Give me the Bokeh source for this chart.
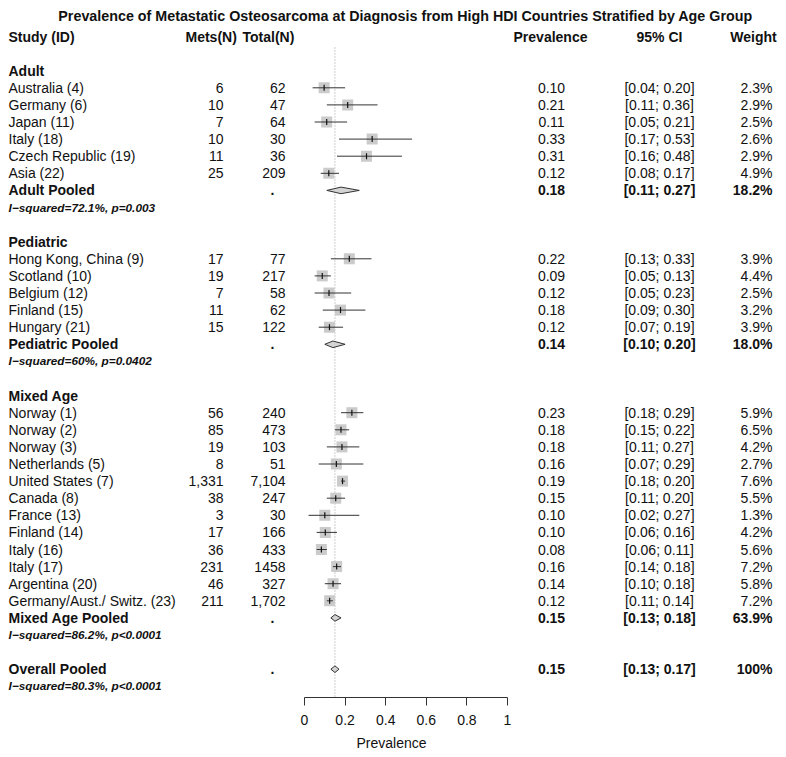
from bokeh.plotting import figure
from bokeh.models import Range1d, LinearAxis, FixedTicker, ColumnDataSource
from bokeh.core.properties import value
from bokeh.embed import file_html
from bokeh.resources import INLINE

# ---------------- data ----------------
title = "Prevalence of Metastatic Osteosarcoma at Diagnosis from High HDI Countries Stratified by Age Group"
col_headers = ["Study (ID)", "Mets(N)", "Total(N)", "Prevalence", "95% CI", "Weight"]

group_names = ["Adult", "Pediatric", "Mixed Age"]

adult_study = ["Australia (4)", "Germany (6)", "Japan (11)", "Italy (18)", "Czech Republic (19)", "Asia (22)"]
adult_mets = ["6", "10", "7", "10", "11", "25"]
adult_total = ["62", "47", "64", "30", "36", "209"]
adult_prev = [0.10, 0.21, 0.11, 0.33, 0.31, 0.12]
adult_lo = [0.04, 0.11, 0.05, 0.17, 0.16, 0.08]
adult_hi = [0.20, 0.36, 0.21, 0.53, 0.48, 0.17]
adult_weight = ["2.3%", "2.9%", "2.5%", "2.6%", "2.9%", "4.9%"]

ped_study = ["Hong Kong, China (9)", "Scotland (10)", "Belgium (12)", "Finland (15)", "Hungary (21)"]
ped_mets = ["17", "19", "7", "11", "15"]
ped_total = ["77", "217", "58", "62", "122"]
ped_prev = [0.22, 0.09, 0.12, 0.18, 0.12]
ped_lo = [0.13, 0.05, 0.05, 0.09, 0.07]
ped_hi = [0.33, 0.13, 0.23, 0.30, 0.19]
ped_weight = ["3.9%", "4.4%", "2.5%", "3.2%", "3.9%"]

mix_study = ["Norway (1)", "Norway (2)", "Norway (3)", "Netherlands (5)", "United States (7)",
             "Canada (8)", "France (13)", "Finland (14)", "Italy (16)", "Italy (17)",
             "Argentina (20)", "Germany/Aust./ Switz. (23)"]
mix_mets = ["56", "85", "19", "8", "1,331", "38", "3", "17", "36", "231", "46", "211"]
mix_total = ["240", "473", "103", "51", "7,104", "247", "30", "166", "433", "1458", "327", "1,702"]
mix_prev = [0.23, 0.18, 0.18, 0.16, 0.19, 0.15, 0.10, 0.10, 0.08, 0.16, 0.14, 0.12]
mix_lo = [0.18, 0.15, 0.11, 0.07, 0.18, 0.11, 0.02, 0.06, 0.06, 0.14, 0.10, 0.11]
mix_hi = [0.29, 0.22, 0.27, 0.29, 0.20, 0.20, 0.27, 0.16, 0.11, 0.18, 0.18, 0.14]
mix_weight = ["5.9%", "6.5%", "4.2%", "2.7%", "7.6%", "5.5%", "1.3%", "4.2%", "5.6%", "7.2%", "5.8%", "7.2%"]

pooled_label = ["Adult Pooled", "Pediatric Pooled", "Mixed Age Pooled", "Overall Pooled"]
pooled_est = [0.18, 0.14, 0.15, 0.15]
pooled_lo = [0.11, 0.10, 0.13, 0.13]
pooled_hi = [0.27, 0.20, 0.18, 0.17]
pooled_weight = ["18.2%", "18.0%", "63.9%", "100%"]
pooled_het = ["I\u2212squared=72.1%, p=0.003", "I\u2212squared=60%, p=0.0402",
              "I\u2212squared=86.2%, p<0.0001", "I\u2212squared=80.3%, p<0.0001"]

axis_ticks = [0, 0.2, 0.4, 0.6, 0.8, 1]
axis_tick_labels = ["0", "0.2", "0.4", "0.6", "0.8", "1"]

# ---------------- layout helpers ----------------
FONT = value("Liberation Sans")
X0_PX, PX_PER_UNIT = 304.0, 203.0
ROW0_PX, ROW_H = 36.0, 17.1
PAGE_LEFT, FRAME_W = 0, 782
FRAME_TOP, FRAME_BOTTOM = 0, 697


def xpx(px):
    return (px - X0_PX) / PX_PER_UNIT


def ypx(px):
    return (px - ROW0_PX) / ROW_H


groups = [
    (adult_study, adult_mets, adult_total, adult_prev, adult_lo, adult_hi, adult_weight),
    (ped_study, ped_mets, ped_total, ped_prev, ped_lo, ped_hi, ped_weight),
    (mix_study, mix_mets, mix_total, mix_prev, mix_lo, mix_hi, mix_weight),
]

study_rows = dict(name=[], mets=[], total=[], est=[], prev=[], lo=[], hi=[], ci=[], w=[], y=[])
header_rows = dict(text=[], y=[])
pool_rows = dict(label=[], est=[], lo=[], hi=[], prev=[], ci=[], w=[], y=[], het=[], yhet=[])

row = 2
for gi, (names, mets, tots, prevs, los, his, ws) in enumerate(groups):
    header_rows["text"].append(group_names[gi])
    header_rows["y"].append(row)
    row += 1
    for n, m, t, pv, lo, hi, w in zip(names, mets, tots, prevs, los, his, ws):
        study_rows["name"].append(n)
        study_rows["mets"].append(m)
        study_rows["total"].append(t)
        study_rows["est"].append(int(m.replace(",", "")) / int(t.replace(",", "")))
        study_rows["prev"].append(f"{pv:.2f}")
        study_rows["lo"].append(lo)
        study_rows["hi"].append(hi)
        study_rows["ci"].append(f"[{lo:.2f}; {hi:.2f}]")
        study_rows["w"].append(w)
        study_rows["y"].append(row)
        row += 1
    pool_rows["y"].append(row)
    pool_rows["yhet"].append(row + 1)
    row += 3
pool_rows["y"].append(row)
pool_rows["yhet"].append(row + 1)
for i in range(4):
    pool_rows["label"].append(pooled_label[i])
    pool_rows["est"].append(pooled_est[i])
    pool_rows["lo"].append(pooled_lo[i])
    pool_rows["hi"].append(pooled_hi[i])
    pool_rows["prev"].append(f"{pooled_est[i]:.2f}")
    pool_rows["ci"].append(f"[{pooled_lo[i]:.2f}; {pooled_hi[i]:.2f}]")
    pool_rows["w"].append(pooled_weight[i])
    pool_rows["het"].append(pooled_het[i])

# ---------------- figure ----------------
p = figure(
    frame_width=FRAME_W, frame_height=FRAME_BOTTOM - FRAME_TOP,
    x_range=Range1d(xpx(PAGE_LEFT), xpx(PAGE_LEFT + FRAME_W)),
    y_range=Range1d(ypx(FRAME_BOTTOM), ypx(FRAME_TOP)),
    x_axis_type=None, y_axis_type=None,
    toolbar_location=None, output_backend="svg",
    min_border=0, outline_line_color=None,
    background_fill_color="white", border_fill_color="white",
)

src_s = ColumnDataSource(study_rows)
src_p = ColumnDataSource(pool_rows)

# reference (dotted) line at the overall estimate
p.segment(x0=[pooled_est[3]], y0=[ypx(47)], x1=[pooled_est[3]], y1=[ypx(FRAME_BOTTOM)],
          line_color="#9a9a9a", line_dash="1 2", line_width=1)

# squares, CI lines and point marks
p.scatter(x="est", y="y", source=src_s, marker="square", size=11,
          fill_color="#cbcbcb", line_color=None)
p.segment(x0="lo", y0="y", x1="hi", y1="y", source=src_s, line_color="#333333", line_width=1)
p.scatter(x="est", y="y", source=src_s, marker="dash", angle=1.5708, size=6,
          line_color="#111111", line_width=1.2)

# diamonds
d = 3.3 / ROW_H
xs = [[lo, e, hi, e] for lo, e, hi in zip(pool_rows["lo"], pool_rows["est"], pool_rows["hi"])]
ys = [[y, y - d, y, y + d] for y in pool_rows["y"]]
p.patches(xs=xs, ys=ys, fill_color="#d4d4d4", line_color="#333333", line_width=1)

# ---------------- text ----------------
def txt(x, y, text, size="14px", style="normal", align="left", source=None, color="#111111"):
    kw = dict(text_font=FONT, text_font_size=size, text_font_style=style,
              text_align=align, text_baseline="middle", text_color=color)
    if source is not None:
        p.text(x=x, y=y, text=text, source=source, **kw)
    else:
        p.text(x=x, y=y, text=text, **kw)

# title
txt([xpx(405)], [ypx(15)], [title], size="14.3px", style="bold", align="center")
# column headers
txt([xpx(8)], [0], [col_headers[0]], style="bold")
txt([xpx(185)], [0], [col_headers[1]], style="bold")
txt([xpx(242)], [0], [col_headers[2]], style="bold")
txt([xpx(550)], [0], [col_headers[3]], style="bold", align="center")
txt([xpx(659)], [0], [col_headers[4]], style="bold", align="center")
txt([xpx(753)], [0], [col_headers[5]], style="bold", align="center")

# group headers
txt([xpx(8)] * len(header_rows["y"]), header_rows["y"], header_rows["text"], style="bold")

# study rows
n_s = len(study_rows["y"])
src_s.data["x_name"] = [xpx(8)] * n_s
src_s.data["x_mets"] = [xpx(223)] * n_s
src_s.data["x_tot"] = [xpx(285)] * n_s
src_s.data["x_prev"] = [xpx(551)] * n_s
src_s.data["x_ci"] = [xpx(659)] * n_s
src_s.data["x_w"] = [xpx(772)] * n_s
txt("x_name", "y", "name", source=src_s)
txt("x_mets", "y", "mets", align="right", source=src_s)
txt("x_tot", "y", "total", align="right", source=src_s)
txt("x_prev", "y", "prev", align="center", source=src_s)
txt("x_ci", "y", "ci", align="center", source=src_s)
txt("x_w", "y", "w", align="right", source=src_s)

# pooled rows
n_p = len(pool_rows["y"])
src_p.data["x_name"] = [xpx(8)] * n_p
src_p.data["x_dot"] = [xpx(272)] * n_p
src_p.data["dot"] = ["."] * n_p
src_p.data["x_prev"] = [xpx(551)] * n_p
src_p.data["x_ci"] = [xpx(659)] * n_p
src_p.data["x_w"] = [xpx(772)] * n_p
txt("x_name", "y", "label", style="bold", source=src_p)
txt("x_dot", "y", "dot", style="bold", align="center", source=src_p)
txt("x_prev", "y", "prev", style="bold", align="center", source=src_p)
txt("x_ci", "y", "ci", style="bold", align="center", source=src_p)
txt("x_w", "y", "w", style="bold", align="right", source=src_p)
txt("x_name", "yhet", "het", size="11.8px", style="bold italic", source=src_p)

# ---------------- axis ----------------
ax = LinearAxis(
    bounds=(0, 1),
    ticker=FixedTicker(ticks=axis_ticks),
    major_label_overrides=dict(zip(axis_ticks, axis_tick_labels)),
    axis_label="Prevalence",
)
ax.axis_line_color = "#333333"
ax.major_tick_line_color = "#333333"
ax.major_tick_out = 8
ax.major_tick_in = 0
ax.minor_tick_line_color = None
ax.major_label_standoff = 9
ax.major_label_text_font = "Liberation Sans"
ax.major_label_text_font_size = "14px"
ax.major_label_text_color = "#111111"
ax.axis_label_text_font = "Liberation Sans"
ax.axis_label_text_font_size = "14px"
ax.axis_label_text_font_style = "normal"
ax.axis_label_text_color = "#111111"
ax.axis_label_standoff = 7
p.add_layout(ax, "below")

open("out.html", "w").write(file_html(p, INLINE))
